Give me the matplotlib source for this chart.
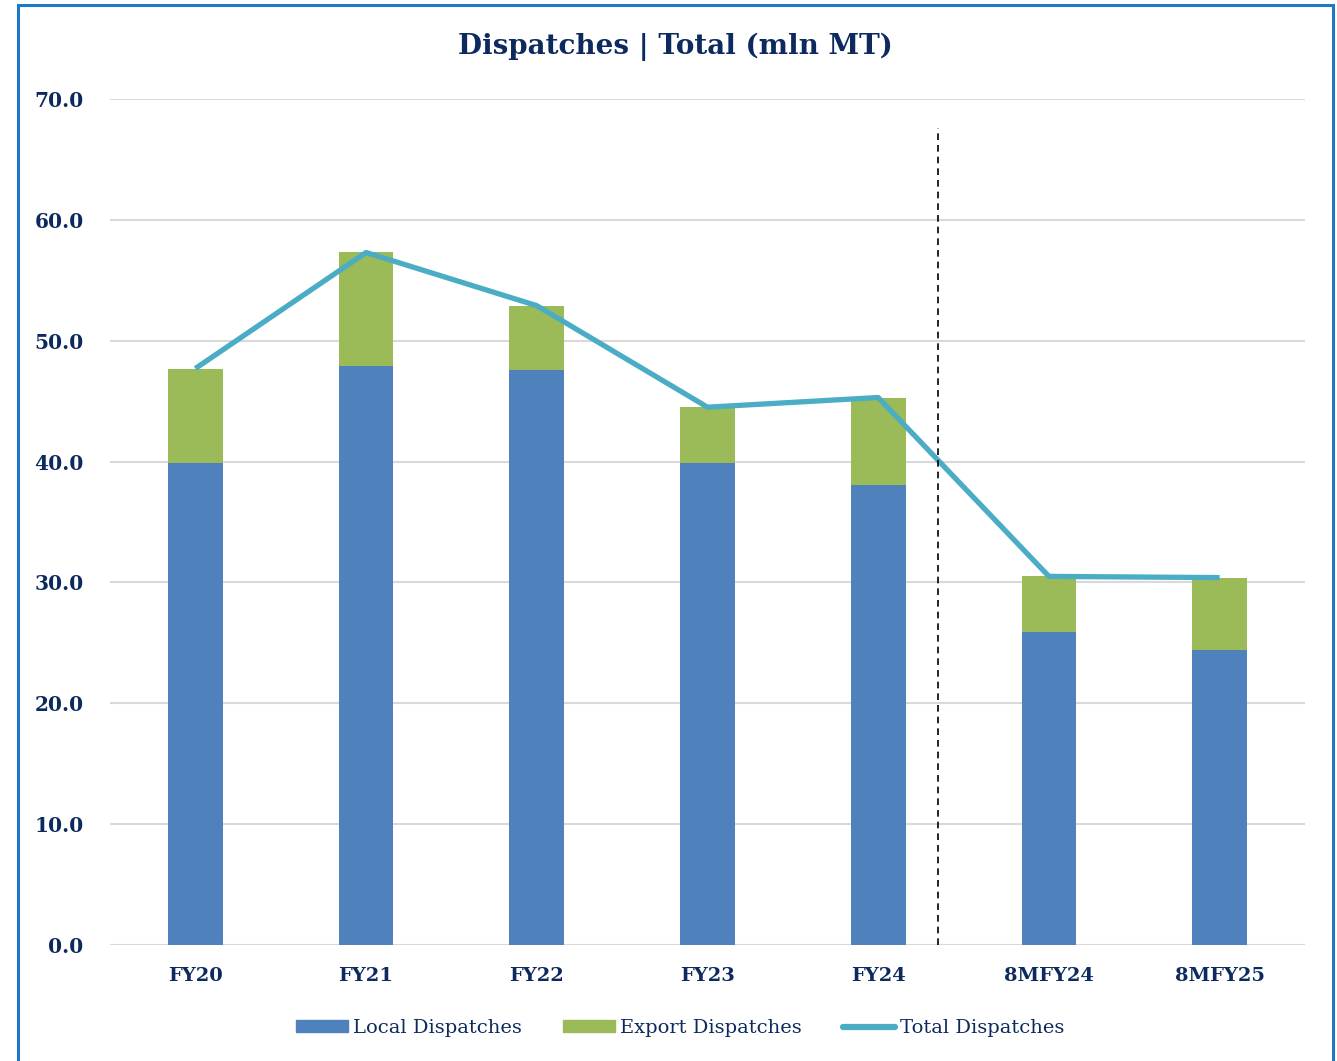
import matplotlib
matplotlib.use("Agg")
import matplotlib.pyplot as plt
from matplotlib.patches import Rectangle
from matplotlib.lines import Line2D

categories = ["FY20", "FY21", "FY22", "FY23", "FY24", "8MFY24", "8MFY25"]
local = [39.9, 47.9, 47.6, 39.9, 38.1, 25.9, 24.4]
total = [47.7, 57.3, 52.9, 44.5, 45.3, 30.5, 30.4]
export = [t - l for t, l in zip(total, local)]
yticks = [0, 10, 20, 30, 40, 50, 60, 70]

navy = "#0D2A5E"
c_local = "#4F81BD"
c_export = "#9BBB59"
c_total = "#4BACC6"
font = ["DejaVu Serif"]

fig = plt.figure(figsize=(13.37, 10.61), dpi=100)
ax = fig.add_axes([110/1337, 1 - 945/1061, (1305-110)/1337, (945-99)/1061])

x = list(range(len(categories)))
w = 0.32
ax.bar(x, local, width=w, color=c_local, label="Local Dispatches", zorder=2)
ax.bar(x, export, width=w, bottom=local, color=c_export, label="Export Dispatches", zorder=2)
ax.plot(x, total, color=c_total, lw=3.8, label="Total Dispatches", zorder=3, solid_capstyle="butt")

ax.vlines(4.35, 0, 67.6, colors="black", linestyles=(0, (4, 3)), lw=1.2, zorder=4)

ax.set_xlim(-0.5, 6.5)
ax.set_ylim(0, 70)
ax.set_yticks(yticks)
ax.set_yticklabels([f"{v:.1f}" for v in yticks], fontsize=14.5, fontweight="bold", color=navy, family=font)
ax.set_xticks(x)
ax.set_xticklabels(categories, fontsize=14, fontweight="bold", color=navy, family=font)
ax.tick_params(axis="both", length=0)
ax.tick_params(axis="y", pad=19)
ax.tick_params(axis="x", pad=16)
ax.grid(axis="y", color="#D9D9D9", lw=1.5, zorder=0)
for s in ax.spines.values():
    s.set_visible(False)

fig.text(0.505, 1 - 47/1061, "Dispatches | Total (mln MT)", ha="center", va="center",
         fontsize=20, fontweight="bold", color=navy, family=font)

handles = [Rectangle((0, 0), 1, 1, color=c_local),
           Rectangle((0, 0), 1, 1, color=c_export),
           Line2D([0], [0], color=c_total, lw=4.5, solid_capstyle="round")]
leg = fig.legend(handles, ["Local Dispatches", "Export Dispatches", "Total Dispatches"],
                 loc="center", bbox_to_anchor=(0.5086, 1 - 1028/1061), ncol=3, frameon=False,
                 prop={"family": font, "size": 14}, handlelength=2.7, handleheight=0.55,
                 handletextpad=0.25, columnspacing=2.1)
for t in leg.get_texts():
    t.set_color(navy)

border = Rectangle((18/1337, -0.05), (1333-18)/1337, 1.05 - 5/1061, transform=fig.transFigure,
                   fill=False, edgecolor="#1E78C8", lw=2.2)
fig.add_artist(border)

fig.savefig("out.png", dpi=100, facecolor="white")
